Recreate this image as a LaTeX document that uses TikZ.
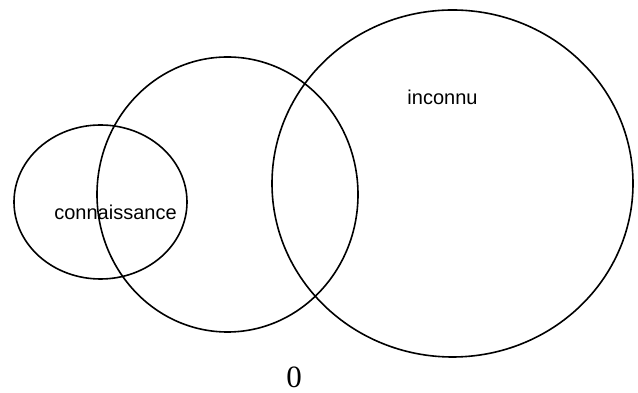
\documentclass[tikz,border=0pt]{standalone}
\usepackage{fontspec}
\setmainfont{Liberation Serif}
\newfontfamily\labelfont{Liberation Sans}
\usetikzlibrary{shapes.geometric}
\begin{document}
\begin{tikzpicture}[x=1pt,y=1pt,
  set/.style={draw=black, line width=1.6pt, ellipse, inner sep=0pt},
  lbl/.style={font=\labelfont\fontsize{20}{24}\selectfont, inner sep=0pt, anchor=base}]
\useasboundingbox (0,0) rectangle (638,393);
\node[set, minimum width=173pt, minimum height=154pt] (small) at (100.5,191) {};
\node[set, minimum width=261pt, minimum height=275pt] (middle) at (227.5,198.5) {};
\node[set, minimum width=361pt, minimum height=347pt] (large) at (452.5,209.5) {};
\node[lbl] (conn) at (115.5,173) {connaissance};
\node[lbl] (inc) at (442.5,288) {inconnu};
\node[font=\fontsize{31}{36}\selectfont, inner sep=0pt, anchor=base] (zero) at (294,5) {0};
\end{tikzpicture}
\end{document}
